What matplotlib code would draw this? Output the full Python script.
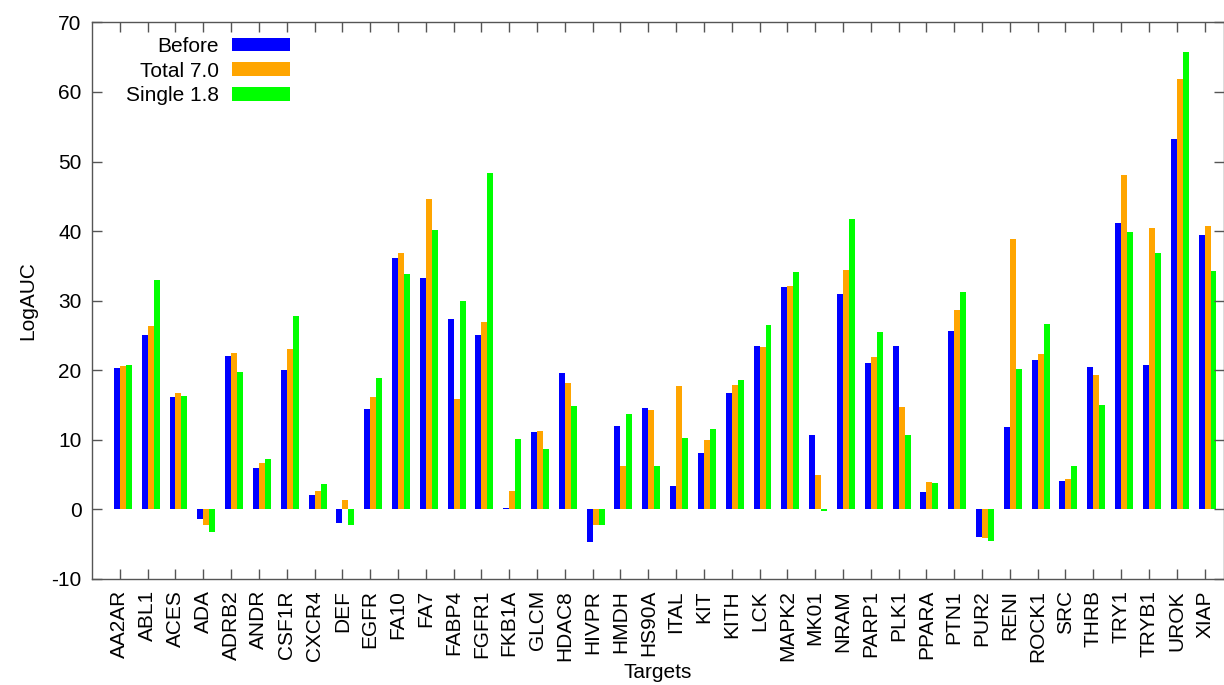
import numpy as np
import matplotlib
matplotlib.use("Agg")
from matplotlib import pyplot as plt

plt.rcParams['font.family'] = ['Liberation Sans', 'DejaVu Sans']
plt.rcParams['axes.unicode_minus'] = False

targets = ["AA2AR", "ABL1", "ACES", "ADA", "ADRB2", "ANDR", "CSF1R", "CXCR4",
           "DEF", "EGFR", "FA10", "FA7", "FABP4", "FGFR1", "FKB1A", "GLCM",
           "HDAC8", "HIVPR", "HMDH", "HS90A", "ITAL", "KIT", "KITH", "LCK",
           "MAPK2", "MK01", "NRAM", "PARP1", "PLK1", "PPARA", "PTN1", "PUR2",
           "RENI", "ROCK1", "SRC", "THRB", "TRY1", "TRYB1", "UROK", "XIAP"]

before = [20.3, 25.1, 16.1, -1.4, 22.1, 5.9, 20.1, 2.0,
          -1.9, 14.4, 36.2, 33.2, 27.3, 25.1, 0.2, 11.1,
          19.6, -4.7, 12.0, 14.6, 3.4, 8.1, 16.7, 23.5,
          32.0, 10.7, 30.9, 21.0, 23.5, 2.5, 25.6, -4.0,
          11.8, 21.4, 4.1, 20.4, 41.2, 20.7, 53.2, 39.5]

total_7 = [20.6, 26.3, 16.7, -2.2, 22.5, 6.6, 23.1, 2.7,
           1.4, 16.1, 36.9, 44.6, 15.9, 27.0, 2.6, 11.3,
           18.2, -2.3, 6.2, 14.3, 17.8, 9.9, 17.9, 23.3,
           32.1, 4.9, 34.4, 21.9, 14.7, 4.0, 28.7, -4.1,
           38.8, 22.3, 4.4, 19.3, 48.1, 40.5, 61.9, 40.8]

single_18 = [20.8, 32.9, 16.3, -3.3, 19.7, 7.3, 27.8, 3.7,
             -2.2, 18.9, 33.9, 40.2, 30.0, 48.4, 10.1, 8.7,
             14.9, -2.3, 13.7, 6.3, 10.2, 11.6, 18.6, 26.5,
             34.1, -0.3, 41.7, 25.5, 10.7, 3.8, 31.2, -4.6,
             20.2, 26.6, 6.3, 15.0, 39.8, 36.8, 65.8, 34.3]

series = [("Before", before, "#0000ff"),
          ("Total 7.0", total_7, "#ffa500"),
          ("Single 1.8", single_18, "#00ff00")]

fs = 15

fig = plt.figure(figsize=(12.24, 6.85), dpi=100)
ax = fig.add_axes([0.0752, 0.1549, 0.9248, 0.8124])

# three bars per target, placed side by side starting just left of the tick
x = np.arange(len(targets))
width = 0.215
for k, (label, vals, color) in enumerate(series):
    ax.bar(x + (k - 1) * width, vals, width, align='edge',
           color=color, label=label, linewidth=0)

ax.set_xlim(-1, 39.70)
ax.set_ylim(-10, 70)
ax.set_yticks(np.arange(-10, 71, 10))
ax.set_xticks(x)
ax.set_xticklabels(targets, rotation=90)

edge = "#555555"
for s in ax.spines.values():
    s.set_color(edge)
    s.set_linewidth(1.0)
ax.tick_params(axis='both', direction='in', length=7, width=1.0,
               color=edge, labelsize=fs, top=True, right=True)
ax.tick_params(axis='x', pad=8)
ax.tick_params(axis='y', pad=7.5)

ax.set_ylabel("LogAUC", fontsize=fs, labelpad=10)
ax.set_xlabel("Targets", fontsize=fs, labelpad=1)

leg = ax.legend(loc='upper left', bbox_to_anchor=(0.0168, 1.0), frameon=False,
                markerfirst=False, fontsize=fs, handlelength=2.79,
                handleheight=0.625, labelspacing=0.27, handletextpad=0.62,
                borderaxespad=0.3)

fig.savefig("out.png", dpi=100)
